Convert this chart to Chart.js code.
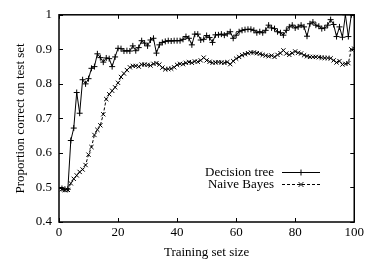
<!DOCTYPE html>
<html>
<head>
<meta charset="utf-8">
<script src="https://cdn.jsdelivr.net/npm/chart.js@4/dist/chart.umd.min.js"></script>
<style>
  html, body { margin: 0; padding: 0; background: #fff; }
  #wrap { width: 367px; height: 265px; }
</style>
</head>
<body>
<div id="wrap"><canvas id="curva"></canvas></div>
<script>
const trainingSizes = [1, 2, 3, 4, 5, 6, 7, 8, 9, 10, 11, 12, 13, 14, 15, 16, 17, 18, 19, 20,
  21, 22, 23, 24, 25, 26, 27, 28, 29, 30, 31, 32, 33, 34, 35, 36, 37, 38, 39, 40,
  41, 42, 43, 44, 45, 46, 47, 48, 49, 50, 51, 52, 53, 54, 55, 56, 57, 58, 59, 60,
  61, 62, 63, 64, 65, 66, 67, 68, 69, 70, 71, 72, 73, 74, 75, 76, 77, 78, 79, 80,
  81, 82, 83, 84, 85, 86, 87, 88, 89, 90, 91, 92, 93, 94, 95, 96, 97, 98, 99, 100];

const decisionTree = [0.497, 0.495, 0.495, 0.636, 0.672, 0.775, 0.715, 0.812, 0.800, 0.815,
  0.845, 0.850, 0.887, 0.876, 0.863, 0.875, 0.873, 0.850, 0.878, 0.903,
  0.902, 0.895, 0.896, 0.895, 0.910, 0.896, 0.905, 0.925, 0.918, 0.910,
  0.927, 0.932, 0.889, 0.913, 0.920, 0.923, 0.925, 0.924, 0.925, 0.925,
  0.925, 0.929, 0.937, 0.932, 0.913, 0.944, 0.944, 0.927, 0.929, 0.940,
  0.934, 0.920, 0.942, 0.942, 0.944, 0.941, 0.945, 0.951, 0.932, 0.941,
  0.951, 0.955, 0.957, 0.958, 0.958, 0.955, 0.948, 0.951, 0.948, 0.955,
  0.970, 0.962, 0.960, 0.951, 0.948, 0.941, 0.955, 0.965, 0.970, 0.962,
  0.965, 0.970, 0.965, 0.938, 0.974, 0.979, 0.970, 0.967, 0.960, 0.962,
  0.970, 0.986, 0.972, 0.937, 0.965, 0.935, 1.000, 0.937, 1.000, 1.000];

const naiveBayes = [0.495, 0.492, 0.493, 0.512, 0.525, 0.535, 0.545, 0.552, 0.565, 0.595,
  0.617, 0.652, 0.667, 0.680, 0.712, 0.756, 0.770, 0.780, 0.790, 0.803,
  0.820, 0.830, 0.840, 0.848, 0.852, 0.852, 0.850, 0.856, 0.856, 0.855,
  0.853, 0.858, 0.860, 0.856, 0.847, 0.842, 0.843, 0.844, 0.848, 0.855,
  0.858, 0.857, 0.861, 0.863, 0.861, 0.865, 0.864, 0.868, 0.876, 0.868,
  0.864, 0.861, 0.862, 0.863, 0.862, 0.861, 0.863, 0.857, 0.866, 0.873,
  0.878, 0.883, 0.886, 0.889, 0.891, 0.891, 0.889, 0.887, 0.884, 0.882,
  0.880, 0.882, 0.878, 0.884, 0.889, 0.897, 0.888, 0.884, 0.889, 0.894,
  0.890, 0.888, 0.883, 0.880, 0.878, 0.878, 0.878, 0.877, 0.876, 0.875,
  0.875, 0.874, 0.868, 0.862, 0.866, 0.856, 0.858, 0.860, 0.900, 0.902];

const xTicks = [0, 20, 40, 60, 80, 100];
const yTicks = [0.4, 0.5, 0.6, 0.7, 0.8, 0.9, 1];

const fonte = { family: '"Liberation Serif", "DejaVu Serif", serif', size: 13 };

function pares(vals) {
  return trainingSizes.map((x, i) => ({ x: x, y: vals[i] }));
}

// moldura + ticks para dentro, estilo gnuplot
const moldura = {
  id: 'moldura',
  afterDraw(chart) {
    const ctx = chart.ctx;
    const a = chart.chartArea;
    const sx = chart.scales.x, sy = chart.scales.y;
    ctx.save();
    ctx.strokeStyle = '#000';
    ctx.lineWidth = 1.5;
    ctx.strokeRect(a.left, a.top, a.right - a.left, a.bottom - a.top);
    ctx.lineWidth = 1;
    ctx.beginPath();
    xTicks.forEach(v => {
      const p = Math.round(sx.getPixelForValue(v)) + 0.5;
      ctx.moveTo(p, a.bottom); ctx.lineTo(p, a.bottom - 4);
      ctx.moveTo(p, a.top); ctx.lineTo(p, a.top + 4);
    });
    yTicks.forEach(v => {
      const p = Math.round(sy.getPixelForValue(v)) + 0.5;
      ctx.moveTo(a.left, p); ctx.lineTo(a.left + 4, p);
      ctx.moveTo(a.right, p); ctx.lineTo(a.right - 4, p);
    });
    ctx.stroke();

    // legenda dentro do grafico
    ctx.font = fonte.size + 'px ' + fonte.family;
    ctx.fillStyle = '#000';
    ctx.textAlign = 'right';
    ctx.textBaseline = 'middle';
    const itens = chart.data.datasets;
    itens.forEach((ds, i) => {
      const y = 172.5 + i * 12;
      ctx.fillText(ds.label, 274, y);
      ctx.setLineDash(ds.borderDash || []);
      ctx.beginPath();
      ctx.moveTo(282, y); ctx.lineTo(320, y);
      ctx.stroke();
      ctx.setLineDash([]);
      ctx.beginPath();
      const r = 3, cx = 301;
      if (ds.pointStyle === 'cross') {
        ctx.moveTo(cx - r, y); ctx.lineTo(cx + r, y);
        ctx.moveTo(cx, y - r); ctx.lineTo(cx, y + r);
      } else {
        const d = r * 0.8;
        ctx.moveTo(cx - d, y - d); ctx.lineTo(cx + d, y + d);
        ctx.moveTo(cx - d, y + d); ctx.lineTo(cx + d, y - d);
      }
      ctx.stroke();
    });
    ctx.restore();
  }
};

const curva = document.getElementById('curva');

new Chart(curva, {
  type: 'line',
  data: {
    datasets: [{
      label: 'Decision tree',
      data: pares(decisionTree),
      borderColor: '#000',
      borderWidth: 1,
      pointStyle: 'cross',
      pointRadius: 3,
      pointBorderColor: '#000',
      pointBorderWidth: 1,
      tension: 0,
      fill: false
    },
    {
      label: 'Naive Bayes',
      data: pares(naiveBayes),
      borderColor: '#000',
      borderWidth: 1,
      borderDash: [3, 2],
      pointStyle: 'crossRot',
      pointRadius: 3,
      pointBorderColor: '#000',
      pointBorderWidth: 1,
      tension: 0,
      fill: false
    }]
  },
  options: {
    responsive: true,
    maintainAspectRatio: false,
    animation: false,
    layout: { padding: { left: 0, top: 11, right: 10, bottom: 0 } },
    plugins: {
      legend: { display: false },
      tooltip: { enabled: false }
    },
    scales: {
      x: {
        type: 'linear',
        min: 0,
        max: 100,
        afterFit(s) { s.height = 43; },
        afterBuildTicks(s) { s.ticks = xTicks.map(v => ({ value: v })); },
        grid: { display: false, drawTicks: false },
        border: { display: false },
        ticks: { color: '#000', font: fonte, padding: 3, maxRotation: 0 },
        title: { display: true, text: 'Training set size', color: '#000', font: fonte, padding: { top: 4, bottom: 5 } }
      },
      y: {
        min: 0.4,
        max: 1,
        afterFit(s) { s.width = 59; },
        afterBuildTicks(s) { s.ticks = yTicks.map(v => ({ value: v })); },
        grid: { display: false, drawTicks: false },
        border: { display: false },
        ticks: { color: '#000', font: fonte, padding: 7, callback: v => String(Number(v.toFixed(1))) },
        title: { display: true, text: 'Proportion correct on test set', color: '#000', font: fonte, padding: { top: 13, bottom: 0 } }
      }
    }
  },
  plugins: [moldura]
});
</script>
</body>
</html>
